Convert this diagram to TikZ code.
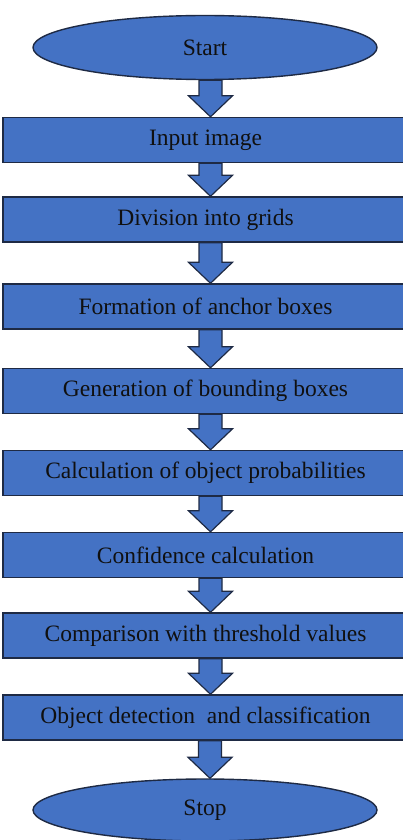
\documentclass[tikz,border=0pt]{standalone}
\usepackage{fontspec}
\setmainfont{LiberationSerif}[Extension=.ttf, UprightFont=*-Regular, BoldFont=*-Bold]
\usetikzlibrary{shapes.geometric,calc}
\definecolor{boxfill}{HTML}{4472C4}
\definecolor{boxline}{HTML}{1E2A44}
\definecolor{txt}{HTML}{101010}
\tikzset{
  flowbox/.style={draw=boxline, fill=boxfill, line width=1.4pt, rectangle,
    minimum width=405pt, minimum height=45pt, inner sep=0pt, text=txt,
    font=\rmfamily\fontsize{23.5}{28}\selectfont},
  term/.style={draw=boxline, fill=boxfill, line width=1.4pt, ellipse,
    minimum width=344pt, minimum height=64pt, inner sep=0pt, text=txt,
    font=\rmfamily\fontsize{23.5}{28}\selectfont},
  blockarr/.style={draw=boxline, fill=boxfill, line width=1.2pt, line join=miter}
}
\newcommand\blockarrow[2]{%
  \draw[blockarr] let \p1=($(#1.south)+(5pt,0)$), \p2=($(#2.north)+(5pt,0)$) in
    (\x2-11.5pt,\y1) -- (\x2+11.5pt,\y1) -- (\x2+11.5pt,\y2+21pt) -- (\x2+22pt,\y2+21pt)
    -- (\x2,\y2) -- (\x2-22pt,\y2+21pt) -- (\x2-11.5pt,\y2+21pt) -- cycle;}
\begin{document}
\begin{tikzpicture}[x=1pt,y=-1pt]
\useasboundingbox (0,0) rectangle (403,840);
\clip (0,0) rectangle (403,840);
\fill[white] (0,0) rectangle (403,840);
\node[term] (start) at (205,47.5) {Start};
\node[flowbox] (b1) at (205.5,140) {Input image};
\node[flowbox] (b2) at (205.5,219.5) {Division into grids};
\node[flowbox] (b3) at (205.5,306.5) {Formation of anchor boxes};
\node[flowbox] (b4) at (205.5,391) {Generation of bounding boxes};
\node[flowbox] (b5) at (205.5,473) {Calculation of object probabilities};
\node[flowbox] (b6) at (205.5,555) {Confidence calculation};
\node[flowbox] (b7) at (205.5,635.5) {Comparison with threshold values};
\node[flowbox] (b8) at (205.5,717.5) {Object detection\ \ and classification};
\node[term, minimum height=62pt] (stop) at (205,810) {Stop};
\blockarrow{start}{b1}
\blockarrow{b1}{b2}
\blockarrow{b2}{b3}
\blockarrow{b3}{b4}
\blockarrow{b4}{b5}
\blockarrow{b5}{b6}
\blockarrow{b6}{b7}
\blockarrow{b7}{b8}
\blockarrow{b8}{stop}
\end{tikzpicture}
\end{document}
